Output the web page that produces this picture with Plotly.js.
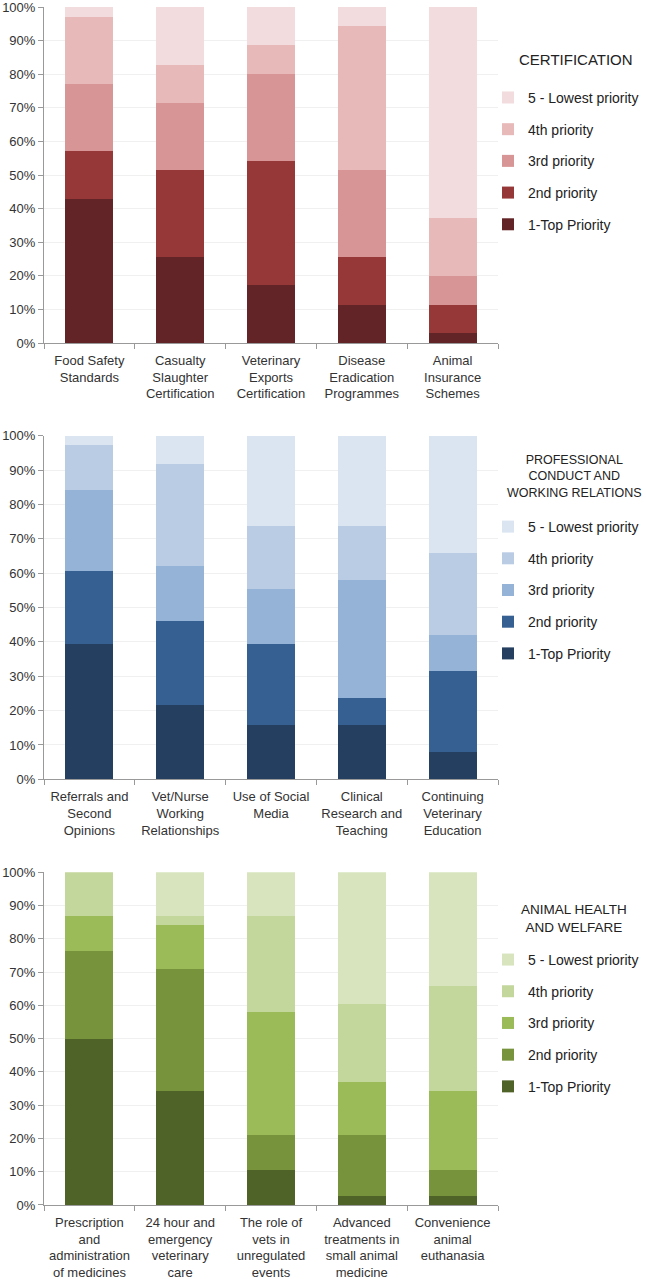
<!DOCTYPE html>
<html>
<head>
<meta charset="utf-8">
<script src="https://cdn.plot.ly/plotly-3.0.1.min.js"></script>
<style>html,body{margin:0;padding:0;background:#fff;}#chart{width:646px;height:1279px;}</style>
</head>
<body>
<div id="chart"></div>
<script>
// ---------- DATA ----------
const priorityNames = ['1-Top Priority', '2nd priority', '3rd priority', '4th priority', '5 - Lowest priority'];

const certTitle = 'CERTIFICATION';
const certCategories = ['Food Safety<br>Standards', 'Casualty<br>Slaughter<br>Certification', 'Veterinary<br>Exports<br>Certification', 'Disease<br>Eradication<br>Programmes', 'Animal<br>Insurance<br>Schemes'];
const certP1 = [42.86, 25.71, 17.14, 11.43, 2.86];
const certP2 = [14.29, 25.71, 37.14, 14.29, 8.57];
const certP3 = [20.00, 20.00, 25.71, 25.71, 8.57];
const certP4 = [20.00, 11.43, 8.57, 42.86, 17.14];
const certP5 = [2.85, 17.14, 11.43, 5.71, 62.86];

const profTitle = 'PROFESSIONAL<br>CONDUCT AND<br>WORKING RELATIONS';
const profCategories = ['Referrals and<br>Second<br>Opinions', 'Vet/Nurse<br>Working<br>Relationships', 'Use of Social<br>Media', 'Clinical<br>Research and<br>Teaching', 'Continuing<br>Veterinary<br>Education'];
const profP1 = [39.47, 21.62, 15.79, 15.79, 7.89];
const profP2 = [21.05, 24.32, 23.68, 7.89, 23.68];
const profP3 = [23.68, 16.22, 15.79, 34.21, 10.53];
const profP4 = [13.16, 29.73, 18.42, 15.79, 23.68];
const profP5 = [2.64, 8.11, 26.32, 26.32, 34.22];

const animTitle = 'ANIMAL HEALTH<br>AND WELFARE';
const animCategories = ['Prescription<br>and<br>administration<br>of medicines', '24 hour and<br>emergency<br>veterinary<br>care', 'The role of<br>vets in<br>unregulated<br>events', 'Advanced<br>treatments in<br>small animal<br>medicine', 'Convenience<br>animal<br>euthanasia'];
const animP1 = [50.00, 34.21, 10.53, 2.63, 2.63];
const animP2 = [26.32, 36.84, 10.53, 18.42, 7.89];
const animP3 = [10.53, 13.16, 36.84, 15.79, 23.68];
const animP4 = [13.15, 2.63, 28.95, 23.68, 31.58];
const animP5 = [0.00, 13.16, 13.15, 39.48, 34.22];

const yTickVals = [0, 10, 20, 30, 40, 50, 60, 70, 80, 90, 100];
const yTickText = yTickVals.map(v => v + '%');

// ---------- STYLE ----------
const certColors = ['#622426', '#973838', '#d79595', '#e8b9b9', '#f2dcdd'];
const profColors = ['#243f60', '#366092', '#95b3d7', '#b9cce4', '#dbe5f1'];
const animColors = ['#4f6228', '#77933c', '#9bbb59', '#c3d69b', '#d7e4bd'];

const FONT = 'Liberation Sans, Arial, Helvetica, sans-serif';
const traces = [];
function addGroup(cats, series, colors, xa, ya, leg) {
  series.forEach((vals, i) => {
    traces.push({
      type: 'bar', x: cats, y: vals, name: priorityNames[i],
      marker: {color: colors[i], line: {width: 0}},
      xaxis: xa, yaxis: ya, legend: leg, legendgroup: leg + '_' + i,
      legendrank: 10 - i,
      hoverinfo: 'skip'
    });
  });
}
addGroup(certCategories, [certP1, certP2, certP3, certP4, certP5], certColors, 'x', 'y', 'legend');
addGroup(profCategories, [profP1, profP2, profP3, profP4, profP5], profColors, 'x2', 'y2', 'legend2');
addGroup(animCategories, [animP1, animP2, animP3, animP4, animP5], animColors, 'x3', 'y3', 'legend3');

function xAxis(anchor) {
  return {
    anchor: anchor, domain: [0, 1], type: 'category',
    showline: true, linecolor: '#999', linewidth: 1,
    ticks: 'outside', tickson: 'boundaries', ticklen: 5, tickcolor: '#999',
    tickangle: 0, ticklabelstandoff: 5,
    tickfont: {family: FONT, size: 13, color: '#333'},
    showgrid: false, zeroline: false, fixedrange: true, automargin: false
  };
}
function yAxis(anchor, domain) {
  return {
    anchor: anchor, domain: domain, range: [0, 100],
    tickmode: 'array', tickvals: yTickVals, ticktext: yTickText,
    showline: true, linecolor: '#999', linewidth: 1,
    ticks: 'outside', ticklen: 5, tickcolor: '#999',
    ticklabeloverflow: 'allow',
    tickfont: {family: FONT, size: 13, color: '#333'},
    showgrid: true, gridcolor: '#f0f0f0', gridwidth: 1,
    zeroline: false, fixedrange: true, automargin: false
  };
}
function legend(y) {
  return {
    x: 0.978, xanchor: 'left', y: y, yanchor: 'top',
    traceorder: 'grouped', tracegroupgap: 10.5,
    font: {family: FONT, size: 14, color: '#222'},
    bgcolor: 'rgba(0,0,0,0)', itemclick: false, itemdoubleclick: false
  };
}
function titleAnn(text, x, y, size) {
  return {
    text: text, xref: 'paper', yref: 'paper', x: x, y: y,
    xanchor: 'center', yanchor: 'middle', align: 'center', showarrow: false,
    font: {family: FONT, size: size, color: '#222'}
  };
}

const layout = {
  width: 646, height: 1279,
  margin: {l: 44, r: 148, t: 7, b: 74, autoexpand: false},
  paper_bgcolor: '#fff', plot_bgcolor: '#fff',
  barmode: 'stack', bargap: 0.47,
  font: {family: FONT},
  xaxis: xAxis('y'), yaxis: yAxis('x', [0.7195, 1]),
  xaxis2: xAxis('y2'), yaxis2: yAxis('x2', [0.3553, 0.6422]),
  xaxis3: xAxis('y3'), yaxis3: yAxis('x3', [0, 0.2777]),
  legend: legend(0.9375),
  legend2: legend(0.5793),
  legend3: legend(0.2179),
  annotations: [
    titleAnn(certTitle, 1.1718, 0.9558, 15),
    titleAnn(profTitle, 1.1696, 0.6085, 12.5),
    titleAnn(animTitle, 1.167, 0.2391, 13.5)
  ],
  showlegend: true
};

Plotly.newPlot('chart', traces, layout, {displayModeBar: false, staticPlot: true});
</script>
</body>
</html>
